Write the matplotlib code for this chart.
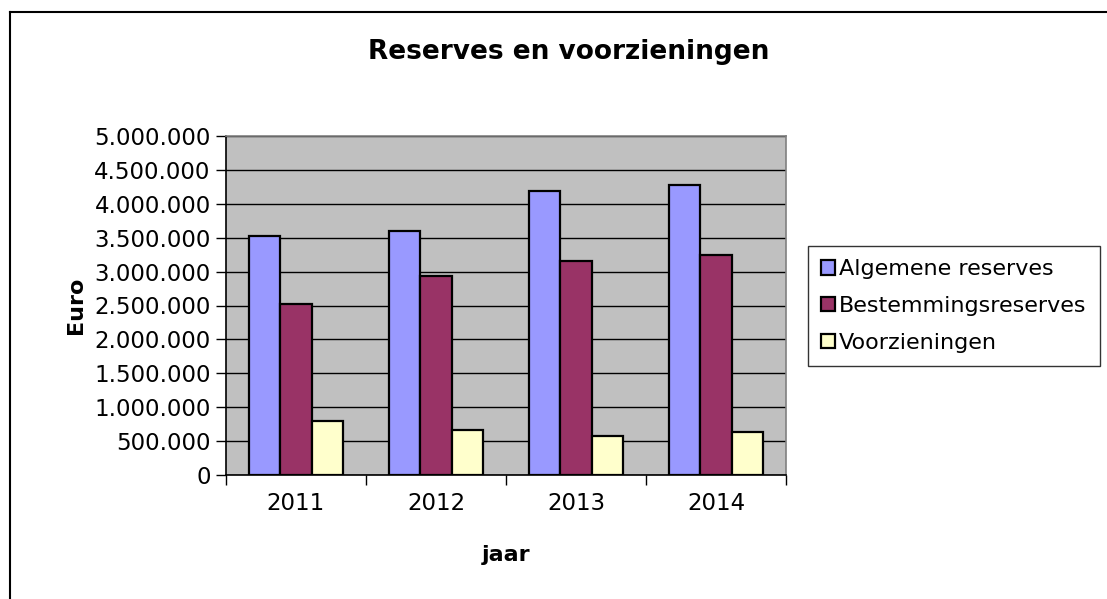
import matplotlib.pyplot as plt
import numpy as np
from matplotlib.lines import Line2D
from matplotlib.ticker import FuncFormatter, FixedLocator

# data
jaren = ["2011", "2012", "2013", "2014"]
algemene = [3530000, 3600000, 4190000, 4280000]
bestemming = [2520000, 2930000, 3150000, 3250000]
voorzieningen = [800000, 670000, 580000, 630000]
series_names = ["Algemene reserves", "Bestemmingsreserves", "Voorzieningen"]
colors = ["#9999FF", "#993366", "#FFFFCC"]

plt.rcParams["font.family"] = ["DejaVu Sans"]

fig = plt.figure(figsize=(11.07, 5.99), dpi=100)
ax = fig.add_axes([226 / 1107, 1 - 475 / 599, 560 / 1107, 339 / 599])
ax.set_facecolor("#C0C0C0")

x = np.arange(len(jaren))
w = 0.226
for i, vals in enumerate([algemene, bestemming, voorzieningen]):
    ax.bar(x + (i - 1) * w, vals, w, color=colors[i], edgecolor="black",
           linewidth=1.6, label=series_names[i], zorder=3)

ax.set_xlim(-0.5, 3.5)
ax.set_ylim(0, 5000000)
ax.set_yticks(np.arange(0, 5000001, 500000))
ax.yaxis.set_major_formatter(FuncFormatter(lambda v, p: f"{int(v):,}".replace(",", ".")))
ax.yaxis.grid(True, color="black", linewidth=1.0, zorder=1)
ax.set_axisbelow(True)

ax.set_xticks(x)
ax.set_xticklabels(jaren)
ax.xaxis.set_minor_locator(FixedLocator([-0.5, 0.5, 1.5, 2.5, 3.5]))
ax.tick_params(axis="x", which="major", length=0, labelsize=16.5, pad=12)
ax.tick_params(axis="x", which="minor", length=7, width=1, direction="out")
ax.tick_params(axis="y", length=7, width=1, direction="out", labelsize=16.5, pad=4)

for side in ["top", "right"]:
    ax.spines[side].set_color("#808080")
    ax.spines[side].set_linewidth(1.2)
for side in ["left", "bottom"]:
    ax.spines[side].set_color("black")
    ax.spines[side].set_linewidth(1.2)

ax.set_xlabel("jaar", fontsize=16, fontweight="bold", labelpad=22)
ax.set_ylabel("Euro", fontsize=16, fontweight="bold", labelpad=6)

fig.text(569 / 1107, 1 - 52 / 599, "Reserves en voorzieningen", ha="center",
         va="center", fontsize=19, fontweight="bold")

leg = fig.legend(loc="upper left", bbox_to_anchor=(808 / 1107, 1 - 246 / 599),
                 fontsize=16, frameon=True, fancybox=False, edgecolor="black",
                 handlelength=0.6, handleheight=0.6, handletextpad=0.2,
                 labelspacing=0.75, borderpad=0.6, borderaxespad=0)
leg.get_frame().set_linewidth(1.0)

# chart border (top and left edges visible)
fig.add_artist(Line2D([10 / 1107, 1], [1 - 12 / 599, 1 - 12 / 599], color="black", linewidth=1.5))
fig.add_artist(Line2D([10 / 1107, 10 / 1107], [0, 1 - 12 / 599], color="black", linewidth=1.5))

fig.savefig("out.png", dpi=100)
